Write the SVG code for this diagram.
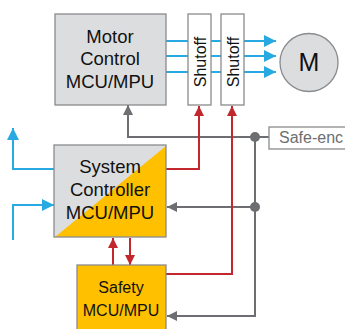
<svg xmlns="http://www.w3.org/2000/svg" width="345" height="329" viewBox="0 0 345 329">
<defs>
<style>
.box{stroke:#8a8b8d;stroke-width:1.3}
.gray{fill:#dcdddf}
.yel{fill:#ffc000}
.t{font-family:"Liberation Sans",Arial,sans-serif;font-size:18.5px;fill:#111;text-anchor:middle}
.blue{stroke:#29a9e1;stroke-width:2;fill:none}
.red{stroke:#c1272d;stroke-width:2;fill:none}
.gl{stroke:#6d6e71;stroke-width:2;fill:none}
</style>
<marker id="ab" viewBox="0 0 10 10" refX="10" refY="5" markerWidth="6" markerHeight="6" markerUnits="strokeWidth" orient="auto"><path d="M0,0 L10,5 L0,10 z" fill="#29a9e1"/></marker>
<marker id="ar" viewBox="0 0 10 10" refX="10" refY="5" markerWidth="5" markerHeight="5" markerUnits="strokeWidth" orient="auto"><path d="M0,0 L10,5 L0,10 z" fill="#c1272d"/></marker>
<marker id="ag" viewBox="0 0 10 10" refX="10" refY="5" markerWidth="5" markerHeight="5" markerUnits="strokeWidth" orient="auto"><path d="M0,0 L10,5 L0,10 z" fill="#6d6e71"/></marker>
</defs>
<g id="connectors">
<path class="blue" d="M166,41 H276" marker-end="url(#ab)"/>
<path class="blue" d="M166,56 H276" marker-end="url(#ab)"/>
<path class="blue" d="M166,72 H276" marker-end="url(#ab)"/>
<path class="blue" d="M54,169 H13 V128" marker-end="url(#ab)"/>
<path class="blue" d="M13,240 V205 H54" marker-end="url(#ab)"/>
<path class="gl" d="M269,137 H128 V105" marker-end="url(#ag)"/>
<path class="gl" d="M255,137 V316 H167" marker-end="url(#ag)"/>
<path class="gl" d="M255,207 H167" marker-end="url(#ag)"/>
<path class="red" d="M166,169 H199 V106" marker-end="url(#ar)"/>
<path class="red" d="M166,274 H232 V106" marker-end="url(#ar)"/>
<path class="red" d="M113,265 V238" marker-end="url(#ar)"/>
<path class="red" d="M130,238 V265" marker-end="url(#ar)"/>
<circle cx="255" cy="137" r="5" fill="#6d6e71"/>
<circle cx="255" cy="207" r="5" fill="#6d6e71"/>
</g>
<g id="motor-control">
<rect class="box gray" x="55" y="14" width="111" height="91"/>
<text class="t" x="110" y="43">Motor</text>
<text class="t" x="110" y="65">Control</text>
<text class="t" x="110" y="88">MCU/MPU</text>
</g>
<g id="shutoff1">
<rect class="box" fill="#fff" x="188" y="14" width="23" height="91"/>
<text class="t" style="font-size:16px" transform="translate(205.5,62) rotate(-90)">Shutoff</text>
</g>
<g id="shutoff2">
<rect class="box" fill="#fff" x="221" y="14" width="23" height="91"/>
<text class="t" style="font-size:16px" transform="translate(238.5,62) rotate(-90)">Shutoff</text>
</g>
<g id="motor">
<circle class="box gray" cx="309" cy="62.5" r="29"/>
<text class="t" style="font-size:25px" x="309" y="71">M</text>
</g>
<g id="safe-enc">
<rect x="269" y="127" width="90" height="22" fill="#fff" stroke="#8a8b8d" stroke-width="1.3"/>
<text class="t" style="font-size:16px;fill:#6d6e71;text-anchor:start" x="279" y="143">Safe-enc</text>
</g>
<g id="system-controller">
<rect class="gray" x="54" y="145" width="112" height="92"/>
<path class="yel" d="M166,146 V237 H55 z"/>
<rect class="box" fill="none" x="54" y="145" width="112" height="92"/>
<text class="t" x="110" y="173">System</text>
<text class="t" x="110" y="196">Controller</text>
<text class="t" x="110" y="219">MCU/MPU</text>
</g>
<g id="safety">
<rect class="box yel" x="77" y="265" width="89" height="70"/>
<text class="t" style="font-size:16px" x="121" y="293">Safety</text>
<text class="t" style="font-size:16px" x="121" y="316">MCU/MPU</text>
</g>
</svg>
